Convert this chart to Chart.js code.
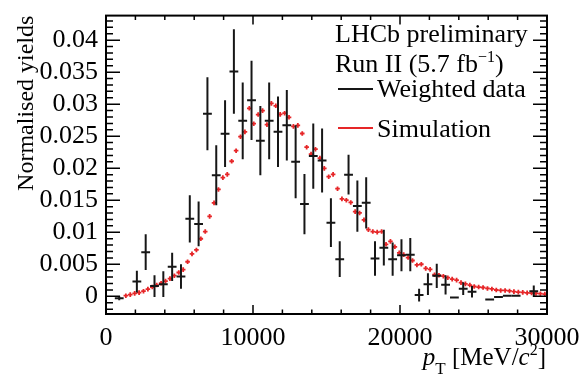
<!DOCTYPE html>
<html>
<head>
<meta charset="utf-8">
<script src="https://cdn.jsdelivr.net/npm/chart.js@4/dist/chart.umd.min.js"></script>
<style>
  html, body { margin: 0; padding: 0; background: #fff; }
  #wrap { width: 582px; height: 381px; }
</style>
</head>
<body>
<div id="wrap"><canvas id="c" width="582" height="381"></canvas></div>
<script>
// Weighted data: bin centres in MeV/c^2, normalised yields and their errors
const dataPt = [900, 2100, 2700, 3300, 3900, 4500, 5100, 5700, 6300, 6900,
  7500, 8100, 8700, 9300, 9900, 10500, 11100, 11700, 12300, 12900,
  13500, 14100, 14700, 15300, 15900, 16500, 17100, 17700, 18300, 18900,
  19500, 20100, 20700, 21300, 21900, 22500, 23100, 23700, 24300, 24900,
  26100, 26700, 27300, 27900, 29100];
const dataYield = [-0.0003, 0.0023, 0.0069, 0.0016, 0.0019, 0.0046, 0.0031, 0.0121, 0.0113, 0.0285,
  0.0189, 0.0254, 0.0351, 0.0274, 0.0306, 0.0243, 0.0274, 0.0257, 0.0267, 0.0210,
  0.0144, 0.0219, 0.0212, 0.0115, 0.0058, 0.0190, 0.0141, 0.0146, 0.0059, 0.0076,
  0.0058, 0.0064, 0.0065, 0.0002, 0.0019, 0.0032, 0.0018, -0.0002, 0.0012, 0.0007,
  -0.0005, -0.0001, 0.0001, 0.0001, 0.0008];
const dataErr = [0.0003, 0.0017, 0.0028, 0.0017, 0.0020, 0.0022, 0.0019, 0.0037, 0.0035, 0.0057,
  0.0047, 0.0052, 0.0066, 0.0060, 0.0062, 0.0054, 0.0060, 0.0055, 0.0055, 0.0057,
  0.0047, 0.0051, 0.0050, 0.0038, 0.0028, 0.0031, 0.0040, 0.0040, 0.0027, 0.0028,
  0.0026, 0.0025, 0.0026, 0.0010, 0.0017, 0.0019, 0.0015, 0.0001, 0.0010, 0.0009,
  0.0001, 0.0001, 0.0001, 0.0001, 0.0009];
const dataBinWidth = 600;

// Simulation: 300 MeV/c^2 bins
const simPt = [150, 450, 750, 1050, 1350, 1650, 1950, 2250, 2550, 2850,
  3150, 3450, 3750, 4050, 4350, 4650, 4950, 5250, 5550, 5850,
  6150, 6450, 6750, 7050, 7350, 7650, 7950, 8250, 8550, 8850,
  9150, 9450, 9750, 10050, 10350, 10650, 10950, 11250, 11550, 11850,
  12150, 12450, 12750, 13050, 13350, 13650, 13950, 14250, 14550, 14850,
  15150, 15450, 15750, 16050, 16350, 16650, 16950, 17250, 17550, 17850,
  18150, 18450, 18750, 19050, 19350, 19650, 19950, 20250, 20550, 20850,
  21150, 21450, 21750, 22050, 22350, 22650, 22950, 23250, 23550, 23850,
  24150, 24450, 24750, 25050, 25350, 25650, 25950, 26250, 26550, 26850,
  27150, 27450, 27750, 28050, 28350, 28650, 28950, 29250, 29550, 29850];
const simYield = [null, null, null, null, 0.0001, 0.00026, 0.00046, 0.00058, 0.0008, 0.00112,
  0.00145, 0.00176, 0.00204, 0.00237, 0.00276, 0.00322, 0.00372, 0.00417, 0.0054, 0.00663,
  0.00724, 0.00899, 0.01011, 0.01248, 0.01459, 0.01669, 0.01853, 0.01904, 0.02109, 0.02274,
  0.02492, 0.02568, 0.02936, 0.02695, 0.02838, 0.02899, 0.0268, 0.03012, 0.02975, 0.02841,
  0.02859, 0.02795, 0.02654, 0.02669, 0.02542, 0.02328, 0.0222, 0.02297, 0.02159, 0.01998,
  0.01868, 0.01904, 0.0168, 0.01521, 0.01501, 0.01466, 0.01323, 0.01302, 0.01194, 0.01041,
  0.01011, 0.01003, 0.01011, 0.00812, 0.00858, 0.00773, 0.00678, 0.00651, 0.00605, 0.00559,
  0.0049, 0.00501, 0.00436, 0.00421, 0.00337, 0.00329, 0.00314, 0.00291, 0.00268, 0.00253,
  0.00214, 0.00194, 0.00176, 0.00153, 0.00145, 0.00138, 0.00123, 0.00115, 0.00099, 0.00092,
  0.00092, 0.00084, 0.00074, 0.00066, 0.00061, 0.00054, 0.00051, 0.00046, 0.00041, 0.00034];

// Axis ticks
const xTickValues = [0, 10000, 20000, 30000];
const xTickLabels = ['0', '10000', '20000', '30000'];
const yTickValues = [0, 0.005, 0.01, 0.015, 0.02, 0.025, 0.03, 0.035, 0.04];
const yTickLabels = ['0', '0.005', '0.01', '0.015', '0.02', '0.025', '0.03', '0.035', '0.04'];

const SERIF = '"Liberation Serif", "Times New Roman", serif';
const RED = 'rgb(230, 38, 40)';
const INK = '#161616';

function drawRuns(ctx, runs, x, y, align) {
  let total = 0;
  runs.forEach(r => { ctx.font = r[1]; total += ctx.measureText(r[0]).width; });
  let cx = align === 'right' ? x - total : x;
  runs.forEach(r => {
    ctx.font = r[1];
    ctx.fillText(r[0], cx, y + (r[2] || 0));
    cx += ctx.measureText(r[0]).width;
  });
}

// ROOT-style frame: inward ticks on all four sides, error bars, titles and legend
const rootStyle = {
  id: 'rootStyle',
  afterDatasetsDraw(chart) {
    const { ctx, chartArea: a, scales: { x, y } } = chart;
    ctx.save();
    ctx.beginPath();
    ctx.rect(a.left, a.top, a.right - a.left, a.bottom - a.top);
    ctx.clip();
    ctx.strokeStyle = INK;
    ctx.lineWidth = 2;
    dataPt.forEach((v, i) => {
      const px = x.getPixelForValue(v);
      const py = y.getPixelForValue(dataYield[i]);
      const x0 = x.getPixelForValue(v - dataBinWidth / 2);
      const x1 = x.getPixelForValue(v + dataBinWidth / 2);
      const y0 = y.getPixelForValue(dataYield[i] - dataErr[i]);
      const y1 = y.getPixelForValue(dataYield[i] + dataErr[i]);
      ctx.beginPath();
      ctx.moveTo(x0, py); ctx.lineTo(x1, py);
      ctx.moveTo(px, y0); ctx.lineTo(px, y1);
      ctx.stroke();
    });
    ctx.restore();
  },
  afterDraw(chart) {
    const { ctx, chartArea: a, scales: { x, y } } = chart;
    ctx.save();
    ctx.strokeStyle = '#000';
    // ticks
    ctx.lineWidth = 1.5;
    ctx.beginPath();
    for (let v = 0; v <= 30000; v += 2000) {
      const px = x.getPixelForValue(v);
      const len = v % 10000 === 0 ? 9 : 4.5;
      ctx.moveTo(px, a.bottom); ctx.lineTo(px, a.bottom - len);
      ctx.moveTo(px, a.top); ctx.lineTo(px, a.top + len);
    }
    for (let k = -2; k <= 43; k++) {
      const v = k / 1000;
      const py = y.getPixelForValue(v);
      const len = k % 5 === 0 ? 14 : 7;
      ctx.moveTo(a.left, py); ctx.lineTo(a.left + len, py);
      ctx.moveTo(a.right, py); ctx.lineTo(a.right - len, py);
    }
    ctx.stroke();
    // frame
    ctx.lineWidth = 2;
    ctx.strokeRect(a.left, a.top, a.right - a.left, a.bottom - a.top);

    ctx.fillStyle = '#000';
    ctx.textBaseline = 'alphabetic';
    // y title
    ctx.save();
    ctx.translate(33, a.top);
    ctx.rotate(-Math.PI / 2);
    ctx.textAlign = 'right';
    ctx.font = '24px ' + SERIF;
    ctx.fillText('Normalised yields', 0, 0);
    ctx.restore();
    // x title
    ctx.textAlign = 'left';
    drawRuns(ctx, [
      ['p', 'italic 25px ' + SERIF, 0],
      ['T', '17px ' + SERIF, 9],
      [' [MeV/', '25px ' + SERIF, 0],
      ['c', 'italic 25px ' + SERIF, 0],
      ['2', '16px ' + SERIF, -10],
      [']', '25px ' + SERIF, 0]
    ], 546, 365, 'right');
    // legend block
    ctx.font = '26px ' + SERIF;
    ctx.fillText('LHCb preliminary', 335, 42);
    drawRuns(ctx, [
      ['Run II (5.7 fb', '26px ' + SERIF, 0],
      ['\u22121', '16px ' + SERIF, -10],
      [')', '26px ' + SERIF, 0]
    ], 335, 72, 'left');
    ctx.lineWidth = 2;
    ctx.strokeStyle = INK;
    ctx.beginPath(); ctx.moveTo(338, 89); ctx.lineTo(373, 89); ctx.stroke();
    ctx.strokeStyle = RED;
    ctx.beginPath(); ctx.moveTo(338, 128); ctx.lineTo(373, 128); ctx.stroke();
    ctx.font = '26px ' + SERIF;
    ctx.fillText('Weighted data', 377, 97);
    ctx.fillText('Simulation', 377, 137);
    ctx.restore();
  }
};

const simPoints = [];
simPt.forEach((v, i) => { if (simYield[i] !== null) simPoints.push({ x: v, y: simYield[i] }); });
const dataPoints = dataPt.map((v, i) => ({ x: v, y: dataYield[i] }));

new Chart(document.getElementById('c'), {
  type: 'scatter',
  data: {
    datasets: [
      {
        label: 'Simulation',
        data: simPoints,
        pointStyle: 'cross',
        pointRadius: 2.3,
        borderColor: RED,
        backgroundColor: RED,
        borderWidth: 1.8,
        showLine: false
      },
      {
        label: 'Weighted data',
        data: dataPoints,
        pointRadius: 0,
        borderColor: INK,
        showLine: false
      }
    ]
  },
  options: {
    responsive: false,
    animation: false,
    devicePixelRatio: 1,
    layout: { padding: { left: 0, right: 35, top: 10, bottom: 0 } },
    plugins: { legend: { display: false }, tooltip: { enabled: false } },
    scales: {
      x: {
        type: 'linear',
        min: 0, max: 30000,
        grid: { display: false },
        border: { display: false },
        afterBuildTicks: s => { s.ticks = xTickValues.map(v => ({ value: v })); },
        afterFit: s => { s.height = 381 - 314; },
        ticks: {
          font: { family: SERIF, size: 26 },
          color: '#000',
          padding: 1,
          maxRotation: 0,
          autoSkip: false,
          callback: v => xTickLabels[xTickValues.indexOf(v)]
        }
      },
      y: {
        type: 'linear',
        min: -0.00276, max: 0.04383,
        grid: { display: false },
        border: { display: false },
        afterBuildTicks: s => { s.ticks = yTickValues.map(v => ({ value: v })); },
        afterFit: s => { s.width = 106; },
        ticks: {
          font: { family: SERIF, size: 26 },
          color: '#000',
          padding: 0,
          autoSkip: false,
          callback: v => yTickLabels[yTickValues.indexOf(v)]
        }
      }
    }
  },
  plugins: [rootStyle]
});
</script>
</body>
</html>
